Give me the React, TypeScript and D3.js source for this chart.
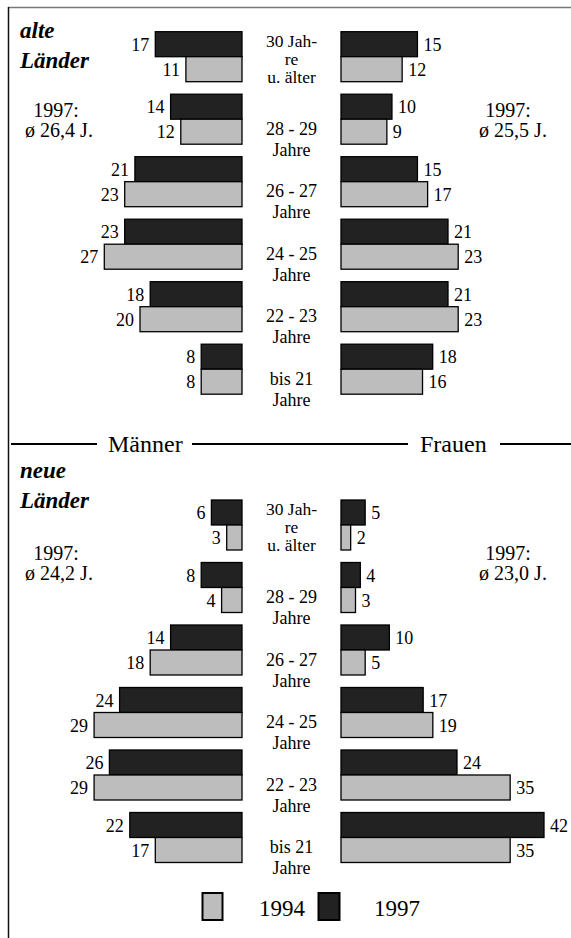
import React from 'react';
import * as d3 from 'd3';

// age groups, top to bottom
const categories = [
  ['30 Jah-', 're', 'u. älter'],
  ['28 - 29', 'Jahre'],
  ['26 - 27', 'Jahre'],
  ['24 - 25', 'Jahre'],
  ['22 - 23', 'Jahre'],
  ['bis 21', 'Jahre'],
];
const years = ['1997', '1994'];

const alteMaenner1997 = [17, 14, 21, 23, 18, 8];
const alteMaenner1994 = [11, 12, 23, 27, 20, 8];
const alteFrauen1997 = [15, 10, 15, 21, 21, 18];
const alteFrauen1994 = [12, 9, 17, 23, 23, 16];

const neueMaenner1997 = [6, 8, 14, 24, 26, 22];
const neueMaenner1994 = [3, 4, 18, 29, 29, 17];
const neueFrauen1997 = [5, 4, 10, 17, 24, 42];
const neueFrauen1994 = [2, 3, 5, 19, 35, 35];

const alteAvg = ['ø 26,4 J.', 'ø 25,5 J.'];
const neueAvg = ['ø 24,2 J.', 'ø 23,0 J.'];

const DARK = '#222';
const LIGHT = '#bdbdbd';
const FONT = "'Liberation Serif', 'Times New Roman', 'DejaVu Serif', serif";

const W = 571;
const H = 938;
const leftEdge = 242;
const rightEdge = 341;
const midX = (leftEdge + rightEdge) / 2;

const Side = ({ y, v97, v94, x, side }) => {
  const sub = d3.scaleBand().domain(years).range([0, y.bandwidth()]);
  return (
    <g>
      {categories.map((c, i) => {
        const top = y(i);
        return years.map((yr) => {
          const v = yr === '1997' ? v97[i] : v94[i];
          const px = x(v);
          const bx = side === 'left' ? px : rightEdge;
          const bw = Math.abs(px - (side === 'left' ? leftEdge : rightEdge));
          const by = top + sub(yr);
          return (
            <g key={yr + i}>
              <rect x={bx} y={by} width={bw} height={sub.bandwidth()}
                fill={yr === '1997' ? DARK : LIGHT} stroke="#000" strokeWidth={1.3} />
              <text x={side === 'left' ? px - 6 : px + 6} y={by + sub.bandwidth() / 2 + 6.5}
                textAnchor={side === 'left' ? 'end' : 'start'} fontSize={18}>{v}</text>
            </g>
          );
        });
      })}
    </g>
  );
};

const Panel = ({ top, m97, m94, f97, f94, fMaxPx, title, titleY, avg, avgY }) => {
  const y = d3.scaleBand().domain(d3.range(categories.length))
    .range([top, top + 62.5 * (categories.length - 0.2)]).paddingInner(0.2);
  const xL = d3.scaleLinear().domain([0, 30]).range([leftEdge, leftEdge - 153]);
  const xR = d3.scaleLinear().domain([0, 42]).range([rightEdge, rightEdge + fMaxPx]);
  return (
    <g>
      <Side y={y} v97={m97} v94={m94} x={xL} side="left" />
      <Side y={y} v97={f97} v94={f94} x={xR} side="right" />
      {categories.map((lines, i) => {
        const three = lines.length === 3;
        return (
          <text key={i} textAnchor="middle" fontSize={three ? 17.5 : 18}>
            {lines.map((l, j) => (
              <tspan key={j} x={midX} y={y(i) + (three ? 15 + j * 18 : 40.5 + j * 21)}>{l}</tspan>
            ))}
          </text>
        );
      })}
      <text fontWeight="bold" fontStyle="italic" fontSize={23}>
        <tspan x={20} y={titleY}>{title}</tspan>
        <tspan x={20} y={titleY + 30}>Länder</tspan>
      </text>
      <text textAnchor="middle" fontSize={20}>
        <tspan x={56} y={avgY}>1997:</tspan>
        <tspan x={59} y={avgY + 20}>{avg[0]}</tspan>
      </text>
      <text textAnchor="middle" fontSize={20}>
        <tspan x={508} y={avgY}>1997:</tspan>
        <tspan x={513} y={avgY + 20}>{avg[1]}</tspan>
      </text>
    </g>
  );
};

export default function App() {
  return (
    <svg width={W} height={H}
      style={{ position: 'absolute', left: 0, top: 0, background: '#fff', fontFamily: FONT }}>
      <line x1={8} x2={W} y1={7.5} y2={7.5} stroke="#777" strokeWidth={1.5} />
      <line x1={8.5} x2={8.5} y1={7} y2={H} stroke="#111" strokeWidth={1.5} />

      <Panel top={31.7} m97={alteMaenner1997} m94={alteMaenner1994}
        f97={alteFrauen1997} f94={alteFrauen1994} fMaxPx={214}
        title="alte" titleY={37.5} avg={alteAvg} avgY={116.5} />

      <g stroke="#000" strokeWidth={1.8}>
        <line x1={11} x2={97} y1={444} y2={444} />
        <line x1={192} x2={408} y1={444} y2={444} />
        <line x1={500} x2={W} y1={444} y2={444} />
      </g>
      <text x={108} y={452} fontSize={24}>Männer</text>
      <text x={420} y={452} fontSize={24}>Frauen</text>

      <Panel top={500} m97={neueMaenner1997} m94={neueMaenner1994}
        f97={neueFrauen1997} f94={neueFrauen1994} fMaxPx={203}
        title="neue" titleY={478} avg={neueAvg} avgY={559.5} />

      <rect x={202.5} y={893} width={20} height={27} fill={LIGHT} stroke="#000" strokeWidth={2} />
      <text x={259} y={916} fontSize={23}>1994</text>
      <rect x={318.5} y={893} width={21} height={27} fill={DARK} stroke="#000" strokeWidth={2} />
      <text x={374} y={916} fontSize={23}>1997</text>
    </svg>
  );
}
